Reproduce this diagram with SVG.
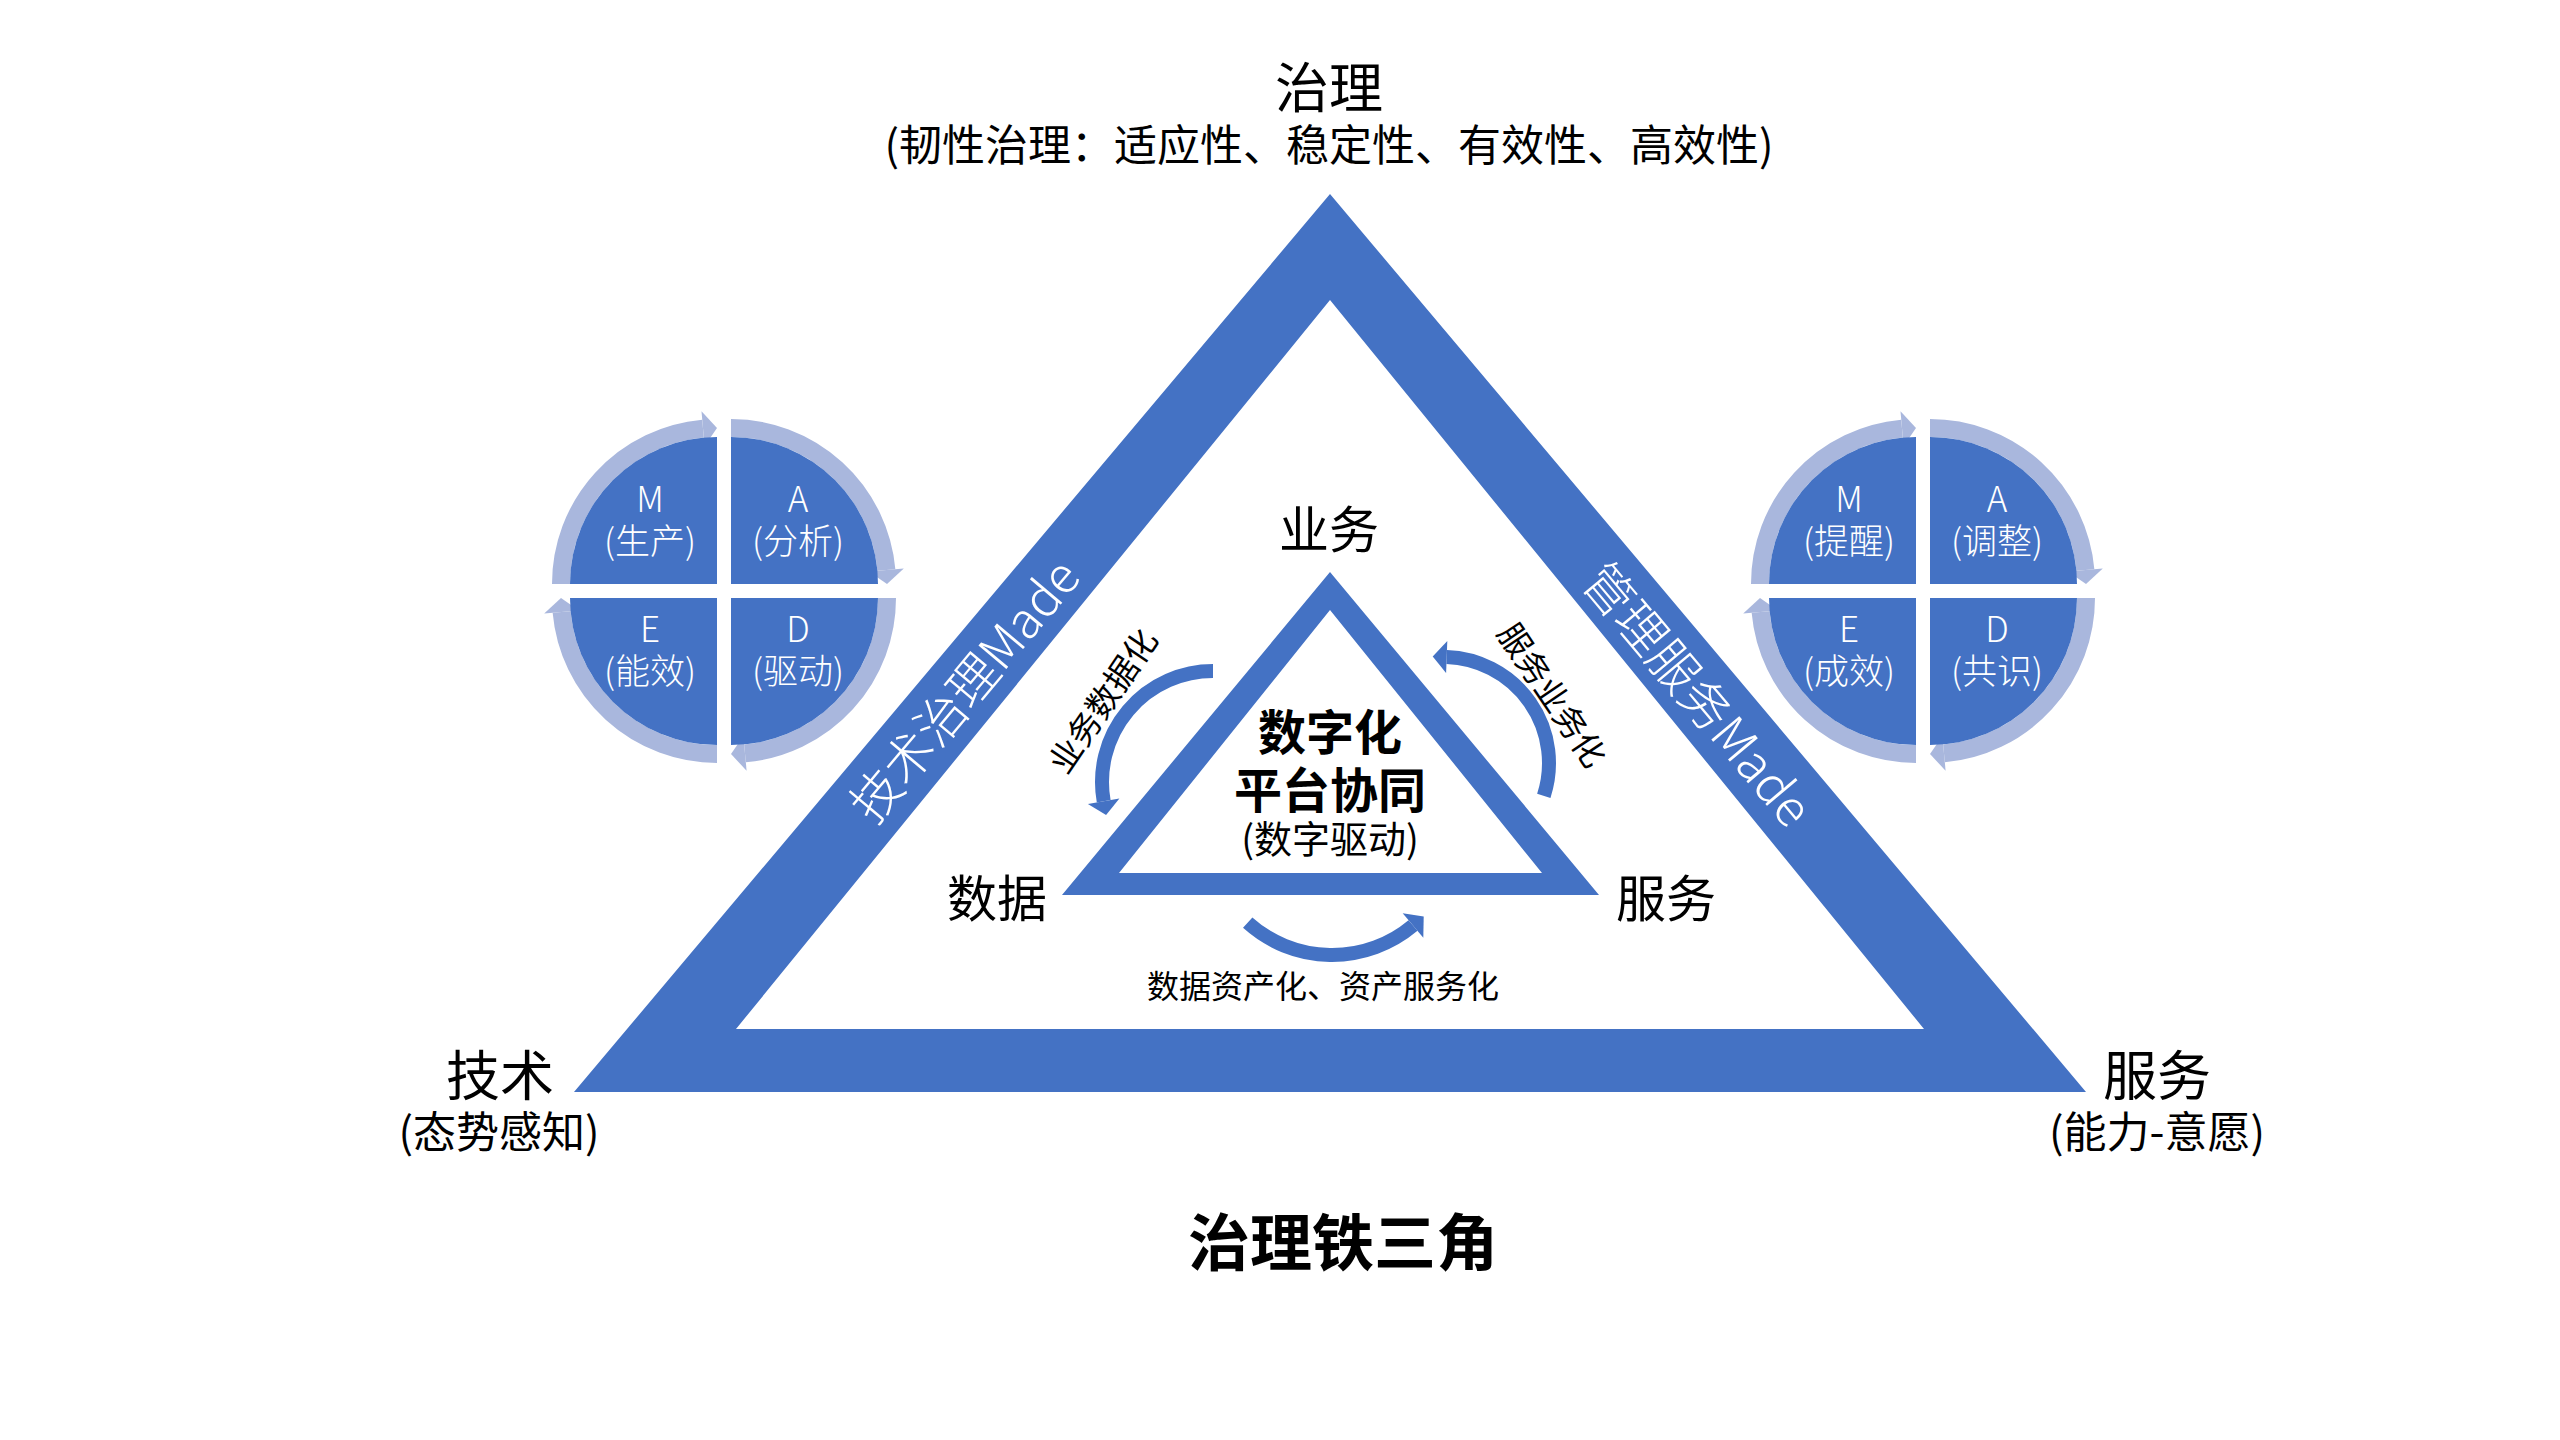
<svg xmlns="http://www.w3.org/2000/svg" width="2560" height="1440" viewBox="0 0 2560 1440">
<defs>
<style>
text { font-family: "Noto Sans CJK SC", "Microsoft YaHei", "Noto Sans", sans-serif; text-anchor: middle; }
.blk { fill: #000000; }
.wht { fill: #ffffff; font-weight: 300; }
.big { font-size: 54px; }
.sub { font-size: 43px; }
.mid { font-size: 50px; }
.q { font-size: 35px; }
.band { font-size: 50px; }
.bold { font-weight: 700; }
.blue { fill: #4472C4; }
.ring { fill: none; stroke: #A9B7DD; stroke-width: 18; }
.ringhead { fill: #A9B7DD; }
.flow { fill: none; stroke: #4472C4; stroke-width: 14; }
.flowhead { fill: #4472C4; }
</style>
</defs>
<rect x="0" y="0" width="2560" height="1440" fill="#ffffff"/>

<g id="main-triangle">
<path class="blue" fill-rule="evenodd" d="M1330,194 L2086,1092 L574,1092 Z M1330,300 L736,1029 L1924,1029 Z"/>
</g>

<g id="node-zhili">
<text class="blk big" x="1329" y="108">治理</text>
<text class="blk sub" x="1329" y="161">(韧性治理：适应性、稳定性、有效性、高效性)</text>
</g>

<g id="node-jishu">
<text class="blk big" x="500" y="1096">技术</text>
<text class="blk sub" x="499" y="1148">(态势感知)</text>
</g>

<g id="node-fuwu-outer">
<text class="blk big" x="2157" y="1096">服务</text>
<text class="blk sub" x="2157" y="1148">(能力-意愿)</text>
</g>

<g id="band-left">
<text class="wht band" transform="translate(964,690) rotate(-50)" x="0" y="19">技术治理Made</text>
</g>
<g id="band-right">
<text class="wht band" transform="translate(1698,694) rotate(50)" x="0" y="19">管理服务Made</text>
</g>

<g id="inner-triangle">
<path class="blue" fill-rule="evenodd" d="M1330,572 L1599,895 L1062,895 Z M1330,610 L1119,873 L1542,873 Z"/>
<text class="blk bold" font-size="48" x="1330" y="750">数字化</text>
<text class="blk bold" font-size="48" x="1330" y="808">平台协同</text>
<text class="blk" font-size="38" x="1330" y="853">(数字驱动)</text>
</g>

<g id="node-yewu"><text class="blk mid" x="1329" y="548">业务</text></g>
<g id="node-shuju"><text class="blk mid" x="997" y="917">数据</text></g>
<g id="node-fuwu-inner"><text class="blk mid" x="1666" y="917">服务</text></g>

<g id="connectors">
<path class="flow" d="M1213,671 A111,111 0 0 0 1103.7,801.3"/>
<polygon class="flowhead" points="1119.4,798.5 1087.9,804.1 1106.1,815.1"/>
<path class="flow" d="M1543.8,795.8 A106,106 0 0 0 1446.7,657.1"/>
<polygon class="flowhead" points="1446.1,673.1 1447.3,641.1 1432.7,656.6"/>
<path class="flow" d="M1247.7,922.6 A126,126 0 0 0 1413,925.5"/>
<polygon class="flowhead" points="1402.7,913.3 1423.3,937.8 1423.7,916.5"/>
</g>

<g id="label-yewu-shuju">
<text class="blk" font-size="33" transform="translate(1103,701) rotate(-56)" x="0" y="12">业务数据化</text>
</g>
<g id="label-fuwu-yewu">
<text class="blk" font-size="33" transform="translate(1552,695) rotate(56)" x="0" y="12">服务业务化</text>
</g>
<g id="label-bottom">
<text class="blk" font-size="32" x="1323" y="998">数据资产化、资产服务化</text>
</g>

<g id="cycle-left">
<path class="ring" d="M561,584 A156,156 0 0 1 703,428.6"/>
<polygon class="ringhead" points="704.6,446.1 701.5,411.2 717,428"/>
<path class="ring" d="M731,428 A156,156 0 0 1 886.4,570"/>
<polygon class="ringhead" points="868.9,571.6 903.8,568.5 887,584"/>
<path class="ring" d="M887,598 A156,156 0 0 1 745,753.4"/>
<polygon class="ringhead" points="743.4,735.9 746.6,770.8 731,754"/>
<path class="ring" d="M717,754 A156,156 0 0 1 561.6,612"/>
<polygon class="ringhead" points="579,610.4 544.2,613.6 561,598"/>
<path class="blue" d="M717,584 L570,584 A147,147 0 0 1 717,437 Z"/>
<path class="blue" d="M731,584 L731,437 A147,147 0 0 1 878,584 Z"/>
<path class="blue" d="M731,598 L878,598 A147,147 0 0 1 731,745 Z"/>
<path class="blue" d="M717,598 L717,745 A147,147 0 0 1 570,598 Z"/>
<text class="wht q" x="650" y="512">M</text>
<text class="wht q" x="650" y="554">(生产)</text>
<text class="wht q" x="798" y="512">A</text>
<text class="wht q" x="798" y="554">(分析)</text>
<text class="wht q" x="650" y="642">E</text>
<text class="wht q" x="650" y="684">(能效)</text>
<text class="wht q" x="798" y="642">D</text>
<text class="wht q" x="798" y="684">(驱动)</text>
</g>

<g id="cycle-right" transform="translate(1199,0)">
<path class="ring" d="M561,584 A156,156 0 0 1 703,428.6"/>
<polygon class="ringhead" points="704.6,446.1 701.5,411.2 717,428"/>
<path class="ring" d="M731,428 A156,156 0 0 1 886.4,570"/>
<polygon class="ringhead" points="868.9,571.6 903.8,568.5 887,584"/>
<path class="ring" d="M887,598 A156,156 0 0 1 745,753.4"/>
<polygon class="ringhead" points="743.4,735.9 746.6,770.8 731,754"/>
<path class="ring" d="M717,754 A156,156 0 0 1 561.6,612"/>
<polygon class="ringhead" points="579,610.4 544.2,613.6 561,598"/>
<path class="blue" d="M717,584 L570,584 A147,147 0 0 1 717,437 Z"/>
<path class="blue" d="M731,584 L731,437 A147,147 0 0 1 878,584 Z"/>
<path class="blue" d="M731,598 L878,598 A147,147 0 0 1 731,745 Z"/>
<path class="blue" d="M717,598 L717,745 A147,147 0 0 1 570,598 Z"/>
<text class="wht q" x="650" y="512">M</text>
<text class="wht q" x="650" y="554">(提醒)</text>
<text class="wht q" x="798" y="512">A</text>
<text class="wht q" x="798" y="554">(调整)</text>
<text class="wht q" x="650" y="642">E</text>
<text class="wht q" x="650" y="684">(成效)</text>
<text class="wht q" x="798" y="642">D</text>
<text class="wht q" x="798" y="684">(共识)</text>
</g>

<g id="title">
<text class="blk bold" font-size="62" x="1343" y="1266">治理铁三角</text>
</g>
</svg>
